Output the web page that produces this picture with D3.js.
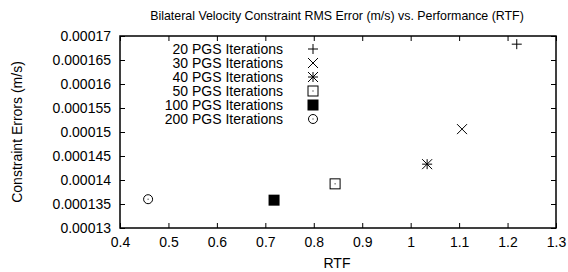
<!DOCTYPE html>
<html>
<head>
<meta charset="utf-8">
<script src="https://cdn.jsdelivr.net/npm/d3@7"></script>
<style>
  body { margin: 0; background: #fff; }
  svg text { font-family: "Liberation Sans", Arial, sans-serif; fill: #000; }
</style>
</head>
<body>
<div id="chart"></div>
<script>
// data
const seriesNames = ["20 PGS Iterations", "30 PGS Iterations", "40 PGS Iterations",
                     "50 PGS Iterations", "100 PGS Iterations", "200 PGS Iterations"];
const rtfValues   = [1.219, 1.106, 1.034, 0.844, 0.718, 0.458];
const errorValues = [0.0001683, 0.0001506, 0.0001433, 0.0001392, 0.0001358, 0.000136];
const symbols     = ["plus", "cross", "star", "boxdot", "boxfill", "circledot"];
const xTicks = [0.4, 0.5, 0.6, 0.7, 0.8, 0.9, 1, 1.1, 1.2, 1.3];
const yTicks = [0.00013, 0.000135, 0.00014, 0.000145, 0.00015, 0.000155, 0.00016, 0.000165, 0.00017];

const width = 568, height = 272;
const margin = { top: 36, right: 12, bottom: 44, left: 120 };

const svg = d3.select('#chart').append('svg')
  .attr('width', width).attr('height', height);

const x = d3.scaleLinear().domain([0.4, 1.3]).range([margin.left, width - margin.right]);
const y = d3.scaleLinear().domain([0.00013, 0.00017]).range([height - margin.bottom, margin.top]);

const fs = 14;

// axes, gnuplot style: ticks inward, mirrored
const fmtY = d => String(+d.toPrecision(6));
const fmtX = d => String(+d.toFixed(1));

svg.append('g').attr('transform', `translate(0,${y.range()[0]})`)
  .call(d3.axisBottom(x).tickValues(xTicks).tickFormat(fmtX).tickSizeInner(-5).tickSizeOuter(0).tickPadding(9))
  .call(g => g.select('.domain').remove())
  .call(g => g.selectAll('text').attr('font-size', fs).attr('font-family', null));

svg.append('g').attr('transform', `translate(0,${y.range()[1]})`)
  .call(d3.axisTop(x).tickValues(xTicks).tickFormat('').tickSizeInner(-5).tickSizeOuter(0))
  .call(g => g.select('.domain').remove());

svg.append('g').attr('transform', `translate(${x.range()[0]},0)`)
  .call(d3.axisLeft(y).tickValues(yTicks).tickFormat(fmtY).tickSizeInner(-5).tickSizeOuter(0).tickPadding(9))
  .call(g => g.select('.domain').remove())
  .call(g => g.selectAll('text').attr('font-size', fs).attr('font-family', null));

svg.append('g').attr('transform', `translate(${x.range()[1]},0)`)
  .call(d3.axisRight(y).tickValues(yTicks).tickFormat('').tickSizeInner(-5).tickSizeOuter(0))
  .call(g => g.select('.domain').remove());

svg.selectAll('.tick line').attr('stroke', '#000');

// frame
svg.append('rect')
  .attr('x', x.range()[0]).attr('y', y.range()[1])
  .attr('width', x.range()[1] - x.range()[0])
  .attr('height', y.range()[0] - y.range()[1])
  .attr('fill', 'none').attr('stroke', '#000').attr('stroke-width', 1.5);

// titles
svg.append('text').attr('x', 337).attr('y', 19.5).attr('text-anchor', 'middle')
  .attr('font-size', 12.4).text('Bilateral Velocity Constraint RMS Error (m/s) vs. Performance (RTF)');
svg.append('text').attr('x', 337).attr('y', 268).attr('text-anchor', 'middle')
  .attr('font-size', fs).text('RTF');
svg.append('text').attr('transform', 'translate(22,132) rotate(-90)').attr('text-anchor', 'middle')
  .attr('font-size', fs).text('Constraint Errors (m/s)');

// point symbols
function drawSymbol(g, type) {
  const s = 5;
  if (type === 'plus') {
    g.append('path').attr('d', `M${-s},0H${s}M0,${-s}V${s}`).attr('stroke', '#000').attr('fill', 'none');
  } else if (type === 'cross') {
    g.append('path').attr('d', `M${-s},${-s}L${s},${s}M${-s},${s}L${s},${-s}`).attr('stroke', '#000').attr('fill', 'none');
  } else if (type === 'star') {
    g.append('path').attr('d', `M${-s},0H${s}M0,${-s}V${s}M${-s},${-s}L${s},${s}M${-s},${s}L${s},${-s}`)
      .attr('stroke', '#000').attr('fill', 'none');
  } else if (type === 'boxdot') {
    g.append('rect').attr('x', -s).attr('y', -s).attr('width', 2 * s).attr('height', 2 * s)
      .attr('fill', 'none').attr('stroke', '#000');
    g.append('rect').attr('x', -0.5).attr('y', -0.5).attr('width', 1).attr('height', 1).attr('fill', '#000');
  } else if (type === 'boxfill') {
    g.append('rect').attr('x', -s - 0.5).attr('y', -s - 0.5).attr('width', 2 * s + 1).attr('height', 2 * s + 1)
      .attr('fill', '#000');
  } else if (type === 'circledot') {
    g.append('circle').attr('r', s - 0.5).attr('fill', 'none').attr('stroke', '#000');
    g.append('rect').attr('x', -0.5).attr('y', -0.5).attr('width', 1).attr('height', 1).attr('fill', '#000');
  }
}

seriesNames.forEach((name, i) => {
  const g = svg.append('g').attr('transform', `translate(${x(rtfValues[i])},${y(errorValues[i])})`);
  drawSymbol(g, symbols[i]);

  // legend entry
  const ly = 49 + i * 14;
  svg.append('text').attr('x', 283).attr('y', ly).attr('dy', '0.35em').attr('text-anchor', 'end')
    .attr('font-size', fs).text(name);
  drawSymbol(svg.append('g').attr('transform', `translate(313,${ly})`), symbols[i]);
});
</script>
</body>
</html>
